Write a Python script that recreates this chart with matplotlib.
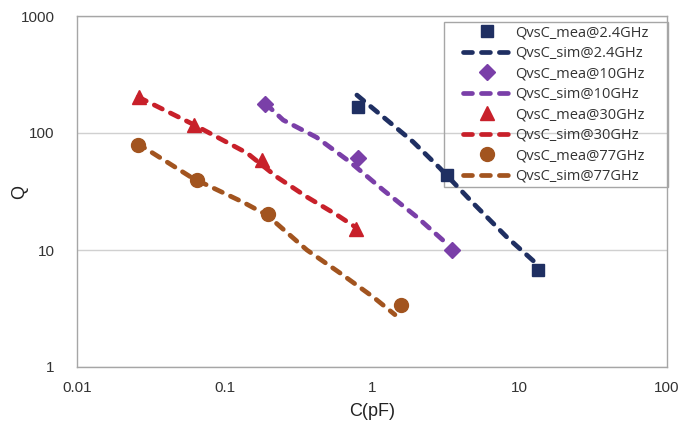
import numpy as np
import matplotlib.pyplot as plt
from matplotlib.patches import Rectangle

plt.rcParams['font.family'] = ['Liberation Sans', 'DejaVu Sans']

# measured points
c_mea_24 = [0.80, 3.22, 13.3]
q_mea_24 = [167, 43.5, 6.8]
c_mea_10 = [0.188, 0.80, 3.49]
q_mea_10 = [177, 61, 10.0]
c_mea_30 = [0.0263, 0.062, 0.18, 0.78]
q_mea_30 = [203, 117, 59, 15.2]
c_mea_77 = [0.0259, 0.065, 0.197, 1.57]
q_mea_77 = [79, 40, 20.3, 3.4]

# simulated curves
c_sim_24 = [0.79, 1.90, 2.89, 4.84, 8.2, 13.1]
q_sim_24 = [211, 84, 50, 25.2, 12.9, 7.6]
c_sim_10 = [0.19, 0.25, 0.42, 0.71, 1.19, 2.02, 3.3]
q_sim_10 = [178, 129, 92, 56.5, 32.6, 19.1, 11.0]
c_sim_30 = [0.026, 0.061, 0.142, 0.227, 0.362, 0.58, 0.79]
q_sim_30 = [203, 119, 67.5, 42, 28.4, 19.9, 15.4]
c_sim_77 = [0.0255, 0.061, 0.133, 0.194, 0.362, 0.607, 1.02, 1.43]
q_sim_77 = [82, 41, 25.7, 19.9, 10, 6.36, 3.96, 2.8]

NAVY = '#1f2f62'
PURPLE = '#7a3fa8'
RED = '#c8202a'
BROWN = '#a2541f'

fig = plt.figure(figsize=(6.81, 4.32), dpi=100)
ax = fig.add_axes([77/681, 1-367/432, 590/681, 351/432])

sim_style = dict(linewidth=3.4, dashes=(1.9, 1.9), dash_capstyle='round', solid_capstyle='round')

ax.plot(c_mea_24, q_mea_24, 's', color=NAVY, markersize=9, linestyle='none', label='QvsC_mea@2.4GHz')
ax.plot(c_sim_24, q_sim_24, color=NAVY, label='QvsC_sim@2.4GHz', **sim_style)
ax.plot(c_mea_10, q_mea_10, 'D', color=PURPLE, markersize=8, linestyle='none', label='QvsC_mea@10GHz')
ax.plot(c_sim_10, q_sim_10, color=PURPLE, label='QvsC_sim@10GHz', **sim_style)
ax.plot(c_mea_30, q_mea_30, '^', color=RED, markersize=10, linestyle='none', label='QvsC_mea@30GHz')
ax.plot(c_sim_30, q_sim_30, color=RED, label='QvsC_sim@30GHz', **sim_style)
ax.plot(c_mea_77, q_mea_77, 'o', color=BROWN, markersize=10, linestyle='none', label='QvsC_mea@77GHz')
ax.plot(c_sim_77, q_sim_77, color=BROWN, label='QvsC_sim@77GHz', **sim_style)

ax.set_xscale('log')
ax.set_yscale('log')
ax.set_xlim(0.01, 100)
ax.set_ylim(1, 1000)
ax.set_xticks([0.01, 0.1, 1, 10, 100])
ax.set_xticklabels(['0.01', '0.1', '1', '10', '100'])
ax.set_yticks([1, 10, 100, 1000])
ax.set_yticklabels(['1', '10', '100', '1000'])
ax.minorticks_off()
ax.tick_params(length=0, labelsize=11, colors='#333333')
ax.tick_params(axis='y', pad=16)
ax.tick_params(axis='x', pad=10)
ax.yaxis.grid(True, color='#d0d0d0', linewidth=1)
ax.set_axisbelow(True)
for s in ax.spines.values():
    s.set_color('#a6a6a6')
    s.set_linewidth(1)

ax.set_xlabel('C(pF)', fontsize=13, color='#222222', labelpad=6)
fig.text(20/681, 1-192/432, 'Q', fontsize=13, color='#222222', rotation=90, ha='center', va='center')

# legend box: transparent, data shows through it like the original
ax.add_patch(Rectangle((444/681, 1-187/432), 224/681, 165/432, transform=fig.transFigure,
                       facecolor='none', edgecolor='#a6a6a6', linewidth=1, zorder=1, clip_on=False))
leg = ax.legend(loc='center', bbox_to_anchor=((444+668)/2/681, 1-(22+187)/2/432), bbox_transform=fig.transFigure,
                borderaxespad=0, frameon=False, handlelength=3.3, labelspacing=0.38,
                prop={'family': 'Open Sans', 'size': 10.5}, borderpad=0.2, handletextpad=0.25)
for t in leg.get_texts():
    t.set_color('#333333')

fig.savefig('out.png', dpi=100)
